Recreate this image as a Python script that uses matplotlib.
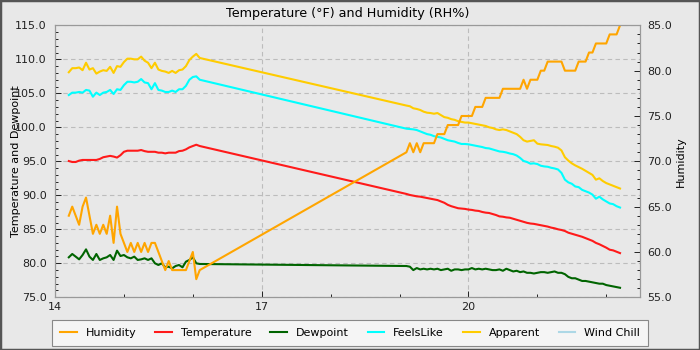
import matplotlib.pyplot as plt
import matplotlib.ticker as mticker
from matplotlib.patches import Rectangle

# sample times (hour of day), two recorded stretches with a gap between
t1 = [14.20, 14.25, 14.30, 14.35, 14.40, 14.45, 14.50, 14.55, 14.60, 14.65,
      14.70, 14.75, 14.80, 14.85, 14.90, 14.95, 15.00, 15.05, 15.10, 15.15,
      15.20, 15.25, 15.30, 15.35, 15.40, 15.45, 15.50, 15.55, 15.60, 15.65,
      15.70, 15.75, 15.80, 15.85, 15.90, 15.95, 16.00, 16.05, 16.10]
t2 = [19.10, 19.15, 19.20, 19.25, 19.30, 19.35, 19.40, 19.45, 19.50, 19.55,
      19.60, 19.65, 19.70, 19.75, 19.80, 19.85, 19.90, 19.95, 20.00, 20.05,
      20.10, 20.15, 20.20, 20.25, 20.30, 20.35, 20.40, 20.45, 20.50, 20.55,
      20.60, 20.65, 20.70, 20.75, 20.80, 20.85, 20.90, 20.95, 21.00, 21.05,
      21.10, 21.15, 21.20, 21.25, 21.30, 21.35, 21.40, 21.45, 21.50, 21.55,
      21.60, 21.65, 21.70, 21.75, 21.80, 21.85, 21.90, 21.95, 22.00, 22.05,
      22.10, 22.15, 22.20]
x_ticks = [14, 17, 20]

hum1 = [64, 65, 64, 63, 65, 66, 64, 62, 63, 62, 63, 62, 64, 61, 65, 62, 61, 60, 61, 60,
        61, 60, 61, 60, 61, 61, 60, 59, 58, 59, 58, 58, 58, 58, 58, 59, 60, 57, 58]
hum2 = [71, 72, 71, 72, 71, 72, 72, 72, 72, 73, 73, 73, 74, 74, 74, 74, 75, 75, 75, 75,
        76, 76, 76, 77, 77, 77, 77, 77, 78, 78, 78, 78, 78, 78, 79, 78, 79, 79, 79, 80,
        80, 81, 81, 81, 81, 81, 80, 80, 80, 80, 81, 81, 81, 82, 82, 83, 83, 83, 83, 84,
        84, 84, 85]

temp1 = [95.04, 94.9, 94.9, 95.1, 95.2, 95.2, 95.2, 95.2, 95.2, 95.35,
         95.6, 95.7, 95.8, 95.7, 95.55, 95.9, 96.4, 96.56, 96.56, 96.56,
         96.56, 96.66, 96.5, 96.4, 96.4, 96.4, 96.27, 96.27, 96.17, 96.27,
         96.27, 96.27, 96.5, 96.56, 96.76, 97.05, 97.25, 97.44, 97.25]
temp2 = [90.2, 90.05, 89.95, 89.85, 89.8, 89.7, 89.6, 89.5, 89.4, 89.3,
         89.1, 88.9, 88.6, 88.4, 88.25, 88.1, 88.05, 88.0, 87.9, 87.85,
         87.75, 87.7, 87.55, 87.45, 87.4, 87.25, 87.1, 86.9, 86.85, 86.75,
         86.7, 86.55, 86.4, 86.25, 86.1, 85.95, 85.85, 85.8, 85.7, 85.6,
         85.5, 85.4, 85.25, 85.15, 85.0, 84.9, 84.75, 84.5, 84.35, 84.2,
         84.05, 83.9, 83.7, 83.5, 83.3, 83.0, 82.8, 82.55, 82.3, 82.0,
         81.9, 81.7, 81.5]

dew1 = [80.88, 81.37, 80.98, 80.58, 81.22, 82.05, 80.98, 80.49, 81.37, 80.49,
        80.73, 80.88, 81.22, 80.49, 81.86, 81.07, 81.22, 80.88, 80.73, 80.98,
        80.49, 80.58, 80.73, 80.49, 80.73, 80.0, 79.75, 80.0, 79.41, 79.5,
        79.26, 79.6, 79.75, 79.41, 80.24, 80.49, 80.88, 80.0, 79.9]
dew2 = [79.6, 79.5, 79.0, 79.3, 79.1, 79.2, 79.1, 79.2, 79.1, 79.2,
        79.0, 79.1, 79.2, 78.9, 79.1, 79.1, 79.0, 79.1, 79.1, 79.3,
        79.1, 79.2, 79.1, 79.2, 79.1, 79.0, 79.0, 79.1, 78.9, 79.2,
        79.0, 78.8, 78.9, 78.7, 78.8, 78.6, 78.6, 78.5, 78.6, 78.7,
        78.7, 78.6, 78.7, 78.8, 78.6, 78.6, 78.4, 78.0, 77.8, 77.8,
        77.6, 77.4, 77.4, 77.3, 77.2, 77.1, 77.0, 77.0, 76.8, 76.7,
        76.6, 76.5, 76.4]

feels1 = [104.75, 105.1, 105.1, 105.2, 105.1, 105.5, 105.4, 104.5, 105.1, 104.75,
          105.1, 105.2, 105.5, 104.9, 105.6, 105.5, 106.2, 106.7, 106.7, 106.6,
          106.7, 107.1, 106.6, 106.5, 105.6, 106.5, 105.5, 105.4, 105.2, 105.2,
          105.4, 105.2, 105.6, 105.6, 106.1, 107.0, 107.4, 107.5, 107.0]
feels2 = [99.8, 99.75, 99.7, 99.6, 99.4, 99.2, 99.0, 98.9, 98.7, 98.6,
          98.5, 98.3, 98.1, 98.0, 97.9, 97.7, 97.55, 97.55, 97.5, 97.4,
          97.3, 97.2, 97.1, 96.95, 96.9, 96.75, 96.6, 96.45, 96.4, 96.3,
          96.15, 96.05, 95.85, 95.5, 95.05, 94.9, 94.65, 94.7, 94.6, 94.35,
          94.25, 94.2, 94.05, 93.95, 93.8, 93.3, 92.3, 91.9, 91.7, 91.3,
          91.2, 90.8, 90.6, 90.4, 90.1, 89.5, 89.8, 89.4, 89.1, 88.8,
          88.7, 88.4, 88.2]

app1 = [108.1, 108.7, 108.7, 108.8, 108.4, 109.5, 108.5, 108.7, 107.9, 108.2,
        108.4, 108.3, 108.9, 108.0, 109.0, 108.9, 109.6, 110.1, 110.1, 110.0,
        110.0, 110.4, 109.8, 109.5, 108.7, 109.5, 108.5, 108.3, 108.2, 108.0,
        108.3, 108.0, 108.4, 108.5, 109.0, 109.9, 110.4, 110.8, 110.2]
app2 = [103.2, 103.1, 102.8, 102.7, 102.55, 102.3, 102.15, 102.1, 102.0, 102.1,
        101.8, 101.5, 101.4, 101.2, 101.1, 100.9, 100.8, 100.7, 100.7, 100.6,
        100.5, 100.4, 100.3, 100.2, 100.0, 99.9, 99.7, 99.6, 99.7, 99.6,
        99.4, 99.2, 99.0, 98.6, 98.1, 97.9, 98.0, 98.1, 97.6, 97.5,
        97.45, 97.4, 97.25, 97.15, 97.0, 96.6, 95.6, 95.1, 94.7, 94.4,
        94.15, 93.9, 93.6, 93.3, 93.0, 92.3, 92.5, 92.1, 91.8, 91.6,
        91.4, 91.2, 91.0]

t = t1 + t2
bg = '#e8e8e8'
grid_kw = dict(color='#bcbcbc', linestyle=(0, (4, 3)), linewidth=0.8)

fig = plt.figure(figsize=(7, 3.5), dpi=100, facecolor=bg)
fig.patches.append(Rectangle((0, 0), 1, 1, transform=fig.transFigure, fill=False,
                             edgecolor='#555555', linewidth=2.5))
ax = fig.add_axes([0.0786, 0.1506, 0.8357, 0.777])
ax.set_facecolor(bg)
ax2 = ax.twinx()

l_temp, = ax.plot(t, temp1 + temp2, color='#ff1a1a', lw=1.5, label='Temperature')
l_dew, = ax.plot(t, dew1 + dew2, color='#006400', lw=1.5, label='Dewpoint')
l_feels, = ax.plot(t, feels1 + feels2, color='#00ffff', lw=1.5, label='FeelsLike')
l_app, = ax.plot(t, app1 + app2, color='#ffcc00', lw=1.5, label='Apparent')
l_wc, = ax.plot([], [], color='#add8e6', lw=1.5, label='Wind Chill')
l_hum, = ax2.plot(t, hum1 + hum2, color='#ffa500', lw=1.5, label='Humidity')

ax.set_xlim(14, 22.49)
ax.set_ylim(75, 115)
ax2.set_ylim(55, 85)

ax.xaxis.set_major_locator(mticker.FixedLocator(x_ticks))
ax.xaxis.set_minor_locator(mticker.MultipleLocator(1))
ax.xaxis.set_major_formatter(mticker.FormatStrFormatter('%d'))
ax.yaxis.set_major_locator(mticker.MultipleLocator(5))
ax.yaxis.set_minor_locator(mticker.MultipleLocator(1))
ax.yaxis.set_major_formatter(mticker.FormatStrFormatter('%.1f'))
ax2.yaxis.set_major_locator(mticker.MultipleLocator(5))
ax2.yaxis.set_minor_locator(mticker.MultipleLocator(1))
ax2.yaxis.set_major_formatter(mticker.FormatStrFormatter('%.1f'))

ax.grid(True, which='major', **grid_kw)
ax.set_axisbelow(True)

for a in (ax, ax2):
    for s in a.spines.values():
        s.set_color('#999999')
    a.tick_params(which='major', direction='in', length=4.3, width=0.7,
                  labelsize=8, colors='#222222')
    a.tick_params(which='minor', direction='in', length=2, width=0.7, colors='#222222')
ax.tick_params(axis='y', which='major', pad=6)
ax.tick_params(axis='x', which='major', pad=3.5)
ax2.tick_params(axis='y', which='major', pad=5)

ax.set_title('Temperature (°F) and Humidity (RH%)', fontsize=9.2, pad=6)
ax.set_ylabel('Temperature and Dewpoint', fontsize=8)
ax.yaxis.set_label_coords(-0.058, 0.5)
ax2.set_ylabel('Humidity', fontsize=8)
ax2.yaxis.set_label_coords(1.0615, 0.5)

handles = [l_hum, l_temp, l_dew, l_feels, l_app, l_wc]
leg = fig.legend(handles=handles, labels=[h.get_label() for h in handles],
                 loc='lower center', bbox_to_anchor=(0.5, -0.004), ncol=6, fontsize=8,
                 handlelength=1.5, handletextpad=0.8, columnspacing=1.7,
                 fancybox=False, framealpha=1, borderpad=0.7)
leg.get_frame().set_facecolor('#f5f5f5')
leg.get_frame().set_edgecolor('#888888')
leg.get_frame().set_linewidth(0.8)

fig.savefig('out.png', dpi=100, facecolor=bg)
